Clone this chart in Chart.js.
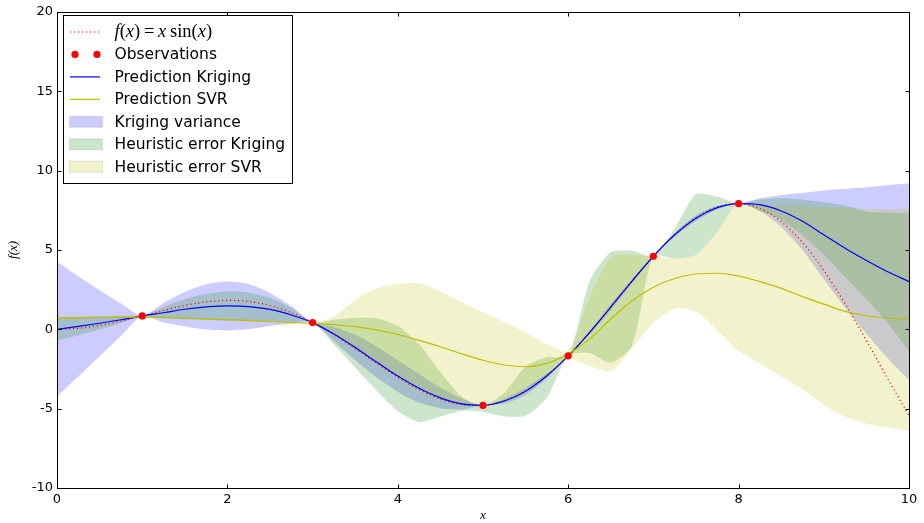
<!DOCTYPE html>
<html>
<head>
<meta charset="utf-8">
<script src="https://cdn.jsdelivr.net/npm/chart.js@4.4.0/dist/chart.umd.min.js"></script>
<style>
  html, body { margin: 0; padding: 0; background: #fff; }
  #wrap { width: 924px; height: 523px; }
</style>
</head>
<body>
<div id="wrap"><canvas id="gpChart" width="924" height="523"></canvas></div>
<script>
"use strict";

// sample grid on [0, 10]
const xGrid = [0, 0.25, 0.5, 0.75, 1, 1.25, 1.5, 1.75, 2, 2.25, 2.5, 2.75, 3, 3.25, 3.5, 3.75, 4, 4.25, 4.5, 4.75,
  5, 5.25, 5.5, 5.75, 6, 6.25, 6.5, 6.75, 7, 7.25, 7.5, 7.75, 8, 8.25, 8.5, 8.75, 9, 9.25, 9.5, 9.75, 10];

// true function x sin(x)
const fTrue = [0.000, 0.062, 0.240, 0.511, 0.841, 1.186, 1.496, 1.722, 1.819, 1.751, 1.496, 1.050, 0.423, -0.352,
  -1.228, -2.143, -3.027, -3.804, -4.399, -4.747, -4.795, -4.509, -3.880, -2.923, -1.676, -0.207, 1.398, 3.038,
  4.599, 5.967, 7.035, 7.708, 7.915, 7.612, 6.787, 5.467, 3.709, 1.609, -0.714, -3.115, -5.440];

// training points
const obsX = [1, 3, 5, 6, 7, 8];
const obsY = [0.841, 0.423, -4.795, -1.676, 4.599, 7.915];

// kriging mean and half width of its confidence band
const krigingPred = [0.00, 0.18, 0.38, 0.60, 0.84, 1.04, 1.26, 1.41, 1.47, 1.43, 1.25, 0.90, 0.42, -0.30, -1.15,
  -2.06, -2.95, -3.72, -4.32, -4.70, -4.79, -4.52, -3.90, -2.93, -1.68, -0.21, 1.40, 3.04, 4.60, 5.95, 7.00, 7.66,
  7.92, 7.85, 7.45, 6.80, 5.95, 5.10, 4.33, 3.62, 3.00];
const krigingSigma = [4.25, 3.16, 2.08, 1.02, 0, 0.62, 1.08, 1.42, 1.54, 1.42, 1.04, 0.56, 0, 0.45, 0.80, 0.97,
  1.00, 0.90, 0.65, 0.35, 0, 0.15, 0.22, 0.15, 0, 0.12, 0.18, 0.12, 0, 0.12, 0.18, 0.12, 0, 0.40, 1.00, 1.80,
  2.80, 3.75, 4.62, 5.45, 6.20];

// SVR mean
const svrPred = [0.70, 0.72, 0.74, 0.76, 0.77, 0.75, 0.71, 0.66, 0.60, 0.55, 0.49, 0.43, 0.37, 0.29, 0.17, -0.04,
  -0.33, -0.70, -1.10, -1.55, -1.95, -2.25, -2.36, -2.15, -1.55, -0.62, 0.65, 1.80, 2.65, 3.20, 3.48, 3.53, 3.35,
  3.00, 2.58, 2.06, 1.58, 1.13, 0.85, 0.71, 0.62];

// heuristic error bounds around the kriging mean
const krigingErrUpper = [0.75, 0.78, 0.80, 0.82, 0.84, 1.40, 1.90, 2.22, 2.37, 2.30, 1.97, 1.35, 0.42, 0.60, 0.73,
  0.70, 0.20, -0.95, -2.70, -4.25, -4.79, -4.00, -2.35, -1.75, -1.68, 3.00, 4.85, 4.95, 4.60, 6.35, 8.50, 8.35,
  7.92, 8.17, 8.25, 8.17, 8.00, 7.79, 7.42, 7.35, 7.33];
const krigingErrLower = [-0.72, -0.38, -0.02, 0.40, 0.84, 0.68, 0.62, 0.59, 0.55, 0.56, 0.53, 0.45, 0.42, -0.96,
  -2.42, -3.85, -5.15, -5.85, -5.50, -5.15, -5.20, -5.50, -5.45, -4.30, -1.68, -1.50, -2.10, -1.00, 4.60, 4.45,
  4.70, 6.10, 7.92, 7.45, 6.90, 5.90, 4.70, 3.30, 1.90, 0.40, -1.38];

// heuristic error bounds around the SVR mean
const svrErrUpper = [0.80, 0.81, 0.82, 0.83, 0.84, 0.82, 0.78, 0.73, 0.68, 0.63, 0.56, 0.49, 0.42, 0.81, 1.85,
  2.55, 2.85, 2.90, 2.38, 1.70, 1.05, 0.45, -0.20, -0.95, -1.35, 2.00, 4.55, 4.70, 4.60, 4.45, 4.70, 6.10, 7.92,
  7.85, 7.80, 7.75, 7.70, 7.65, 7.58, 7.58, 7.60];
const svrErrLower = [0.60, 0.63, 0.66, 0.69, 0.70, 0.68, 0.64, 0.59, 0.53, 0.48, 0.43, 0.38, 0.33, -0.35, -1.20,
  -2.10, -3.00, -3.80, -4.40, -4.75, -4.85, -4.45, -3.80, -2.90, -1.90, -2.30, -2.65, -1.20, 0.40, 1.30, 1.10,
  -0.05, -1.35, -2.15, -2.95, -3.80, -4.75, -5.50, -5.95, -6.20, -6.40];

const xTicks = [0, 2, 4, 6, 8, 10];
const yTicks = [-10, -5, 0, 5, 10, 15, 20];

const RED = "#ff0000";
const BLUE = "#0000ff";
const OLIVE = "#bfbf00";
const BLUE_FILL = "rgba(0, 0, 255, 0.2)";
const GREEN_FILL = "rgba(0, 128, 0, 0.2)";
const YELLOW_FILL = "rgba(191, 191, 0, 0.2)";

const toPoints = (ys) => xGrid.map((x, i) => ({ x: x, y: ys[i] }));

const krigingUpper = krigingPred.map((v, i) => v + krigingSigma[i]);
const krigingLower = krigingPred.map((v, i) => v - krigingSigma[i]);

// invisible edge of a filled band; plain spline keeps the pinch points sharp
const bandEdge = (ys, fill, color, order) => ({
  data: toPoints(ys),
  borderWidth: 0,
  borderColor: "rgba(0,0,0,0)",
  backgroundColor: color,
  pointRadius: 0,
  fill: fill,
  order: order,
  tension: 0.25,
});

const datasets = [
  {
    label: "Observations",
    data: obsX.map((x, i) => ({ x: x, y: obsY[i] })),
    showLine: false,
    pointRadius: 3.6,
    pointBorderWidth: 0,
    pointBackgroundColor: RED,
    order: 0,
  },
  {
    label: "Prediction SVR",
    data: toPoints(svrPred),
    borderColor: OLIVE,
    borderWidth: 1.2,
    pointRadius: 0,
    fill: false,
    order: 1,
    cubicInterpolationMode: "monotone",
  },
  {
    label: "Prediction Kriging",
    data: toPoints(krigingPred),
    borderColor: BLUE,
    borderWidth: 1.2,
    pointRadius: 0,
    fill: false,
    order: 2,
    cubicInterpolationMode: "monotone",
  },
  {
    label: "f(x) = x sin(x)",
    data: toPoints(fTrue),
    borderColor: RED,
    borderWidth: 1.2,
    borderDash: [1.2, 2.8],
    pointRadius: 0,
    fill: false,
    order: 3,
    cubicInterpolationMode: "monotone",
  },
  bandEdge(svrErrUpper, "+1", YELLOW_FILL, 4),
  bandEdge(svrErrLower, false, YELLOW_FILL, 4),
  bandEdge(krigingErrUpper, "+1", GREEN_FILL, 5),
  bandEdge(krigingErrLower, false, GREEN_FILL, 5),
  bandEdge(krigingUpper, "+1", BLUE_FILL, 6),
  bandEdge(krigingLower, false, BLUE_FILL, 6),
];

// frame, inward ticks, axis titles and the boxed legend
const decorations = {
  id: "decorations",
  afterDraw(chart) {
    const ctx = chart.ctx;
    const area = chart.chartArea;
    const xs = chart.scales.x;
    const ys = chart.scales.y;
    const L = Math.round(area.left) + 0.5;
    const R = Math.round(area.right) + 0.5;
    const T = Math.round(area.top) + 0.5;
    const B = Math.round(area.bottom) + 0.5;
    ctx.save();
    ctx.strokeStyle = "#000";
    ctx.lineWidth = 1;
    ctx.strokeRect(L, T, R - L, B - T);

    const tick = 4;
    ctx.beginPath();
    xTicks.forEach((v) => {
      const px = Math.round(xs.getPixelForValue(v)) + 0.5;
      ctx.moveTo(px, B); ctx.lineTo(px, B - tick);
      ctx.moveTo(px, T); ctx.lineTo(px, T + tick);
    });
    yTicks.forEach((v) => {
      const py = Math.round(ys.getPixelForValue(v)) + 0.5;
      ctx.moveTo(L, py); ctx.lineTo(L + tick, py);
      ctx.moveTo(R, py); ctx.lineTo(R - tick, py);
    });
    ctx.stroke();

    // axis titles
    ctx.fillStyle = "#000";
    ctx.textAlign = "center";
    ctx.textBaseline = "middle";
    ctx.font = "italic 13px 'Liberation Serif'";
    ctx.fillText("x", (area.left + area.right) / 2, 516);
    ctx.save();
    ctx.translate(14, (area.top + area.bottom) / 2);
    ctx.rotate(-Math.PI / 2);
    ctx.fillText("f(x)", 0, 0);
    ctx.restore();

    // legend box
    const bx = 63.5, by = 15.5, bw = 229, bh = 168;
    ctx.fillStyle = "#fff";
    ctx.fillRect(bx, by, bw, bh);
    ctx.strokeRect(bx, by, bw, bh);

    const rowY = (i) => 32 + i * 22.45;
    const sx0 = 70, sx1 = 100, tx = 114.5;

    // row 0: dotted red line with a math label
    ctx.save();
    ctx.strokeStyle = RED;
    ctx.lineWidth = 1.2;
    ctx.setLineDash([1.2, 2.8]);
    ctx.beginPath();
    ctx.moveTo(sx0, rowY(0)); ctx.lineTo(sx1, rowY(0));
    ctx.stroke();
    ctx.restore();

    const mathParts = [
      ["f", true], ["(", false], ["x", true], [")", false], ["\u2009=\u2009", false],
      ["x", true], ["\u2009sin", false], ["(", false], ["x", true], [")", false],
    ];
    ctx.textAlign = "left";
    ctx.fillStyle = "#000";
    let cx = tx;
    mathParts.forEach(([s, it]) => {
      ctx.font = (it ? "italic " : "") + "18.5px 'Liberation Serif'";
      ctx.fillText(s, cx, rowY(0));
      cx += ctx.measureText(s).width;
    });

    // row 1: two markers
    ctx.fillStyle = RED;
    [75, 97].forEach((px) => {
      ctx.beginPath();
      ctx.arc(px, rowY(1), 3.6, 0, Math.PI * 2);
      ctx.fill();
    });

    // rows 2-3: solid lines
    [[2, BLUE], [3, OLIVE]].forEach(([i, c]) => {
      ctx.strokeStyle = c;
      ctx.lineWidth = 1.2;
      ctx.beginPath();
      ctx.moveTo(sx0, rowY(i)); ctx.lineTo(sx1, rowY(i));
      ctx.stroke();
    });

    // rows 4-6: filled patches
    [[4, BLUE_FILL], [5, GREEN_FILL], [6, YELLOW_FILL]].forEach(([i, c]) => {
      ctx.fillStyle = c;
      ctx.fillRect(69.5, rowY(i) - 5.5, 33, 11);
      ctx.strokeStyle = "rgba(0,0,0,0.08)";
      ctx.strokeRect(69.5, rowY(i) - 5.5, 33, 11);
    });

    const labels = ["", "Observations", "Prediction Kriging", "Prediction SVR",
      "Kriging variance", "Heuristic error Kriging", "Heuristic error SVR"];
    ctx.fillStyle = "#000";
    ctx.font = "15.5px 'DejaVu Sans'";
    labels.forEach((t, i) => {
      if (t) ctx.fillText(t, tx, rowY(i) + 1);
    });
    ctx.restore();
  },
};

Chart.defaults.font.family = "'DejaVu Sans'";
Chart.defaults.font.size = 13;
Chart.defaults.color = "#000";

new Chart(document.getElementById("gpChart"), {
  type: "line",
  data: { datasets: datasets },
  options: {
    responsive: false,
    animation: false,
    devicePixelRatio: 1,
    layout: { padding: { top: 8, right: 15, left: 0, bottom: 0 } },
    plugins: {
      legend: { display: false },
      tooltip: { enabled: false },
    },
    scales: {
      x: {
        type: "linear",
        min: 0,
        max: 10,
        afterBuildTicks: (s) => { s.ticks = xTicks.map((v) => ({ value: v })); },
        afterFit: (s) => { s.height = 35; },
        grid: { display: false, drawTicks: false },
        border: { display: false },
        ticks: { padding: 4, maxRotation: 0, autoSkip: false },
      },
      y: {
        type: "linear",
        min: -10,
        max: 20,
        afterBuildTicks: (s) => { s.ticks = yTicks.map((v) => ({ value: v })); },
        afterFit: (s) => { s.width = 57; },
        grid: { display: false, drawTicks: false },
        border: { display: false },
        ticks: { padding: 4, autoSkip: false },
      },
    },
  },
  plugins: [decorations],
});
</script>
</body>
</html>
